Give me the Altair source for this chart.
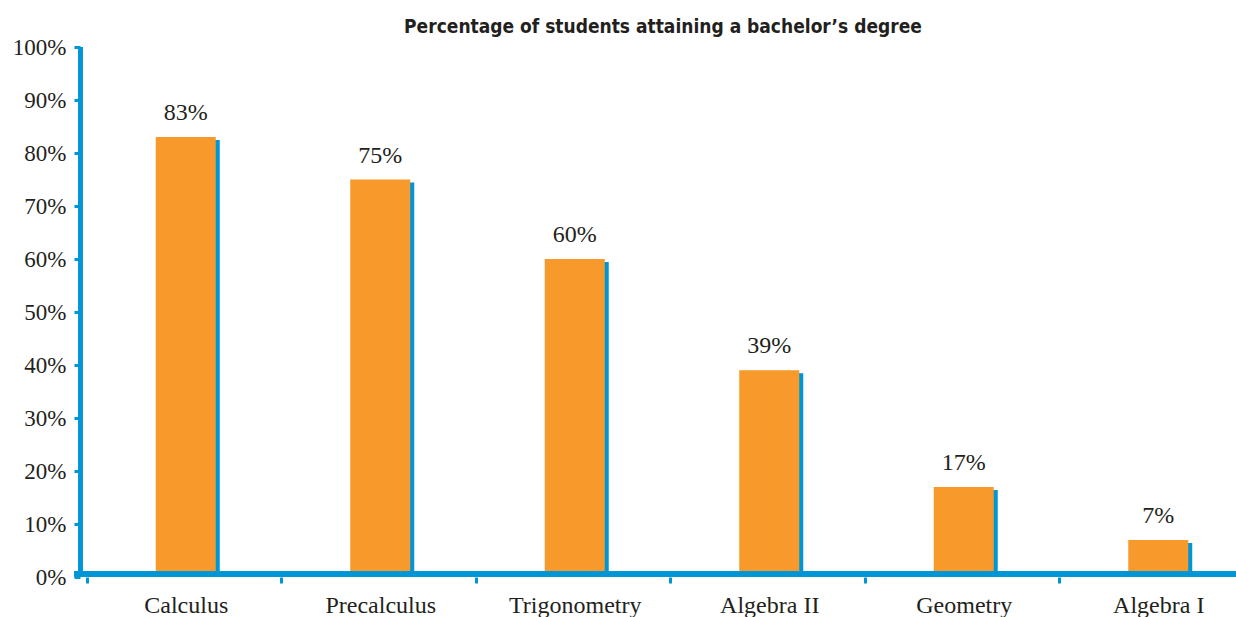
import altair as alt
import pandas as pd

categories = ["Calculus", "Precalculus", "Trigonometry", "Algebra II", "Geometry", "Algebra I"]
values = [83, 75, 60, 39, 17, 7]
labels = ["83%", "75%", "60%", "39%", "17%", "7%"]
y_ticks = [0, 10, 20, 30, 40, 50, 60, 70, 80, 90, 100]
title_text = "Percentage of students attaining a bachelor\u2019s degree"

df = pd.DataFrame({"cat": categories, "val": values, "lab": labels})

ORANGE = "#F7992B"
BLUE = "#0096D6"
TEXT = "#231F20"
W, H = 1156, 530

xs = alt.X("cat:N", sort=categories,
           scale=alt.Scale(domain=categories, range=[6.5, 1173.5], paddingInner=0, paddingOuter=0),
           axis=alt.Axis(title=None, domain=False, tickBand="extent", tickColor=BLUE, tickWidth=3,
                         tickSize=6, labelFont="Liberation Serif", labelFontSize=24, labelColor=TEXT,
                         labelPadding=10, labelOffset=2, labelAngle=0))
ys = alt.Y("val:Q", scale=alt.Scale(domain=[0, 100], nice=False),
           axis=alt.Axis(title=None, domain=False, values=y_ticks, labelExpr="datum.value + '%'",
                         tickColor=BLUE, tickWidth=3, tickSize=6, grid=False,
                         labelFont="Liberation Serif", labelFontSize=23, labelColor=TEXT,
                         labelPadding=8))

base = alt.Chart(df)
shadow = base.mark_bar(width=60, color=BLUE, xOffset=6, yOffset=3, y2Offset=-4).encode(
    x=xs, y=ys, y2=alt.datum(0))
bars = base.mark_bar(width=60, color=ORANGE, xOffset=2, y2Offset=-4).encode(
    x=xs, y=ys, y2=alt.datum(0))
text = base.mark_text(font="Liberation Serif", fontSize=24, color=TEXT, dy=-17, dx=2,
                      baseline="alphabetic").encode(x=xs, y=ys, text="lab:N")
xline = base.mark_rule(color=BLUE, strokeWidth=5).encode(
    x=alt.value(-6), x2=alt.value(W + 10), y=alt.value(H - 3))
yline = base.mark_rule(color=BLUE, strokeWidth=4).encode(
    x=alt.value(0.5), y=alt.value(0), y2=alt.value(H))

chart = alt.layer(shadow, bars, text, xline, yline).properties(
    width=W, height=H,
    autosize=alt.AutoSizeParams(type="none"),
    padding={"left": 80, "top": 47, "right": 0, "bottom": 40},
    title=alt.TitleParams(title_text,
                          font="Liberation Sans Narrow, DejaVu Sans Condensed, Roboto, sans-serif",
                          fontSize=19, fontWeight="bold",
                          color=TEXT, anchor="middle", dx=5, dy=15, offset=14),
).configure_view(stroke=None)

chart.save("out.html", embed_options={"renderer": "svg", "actions": False})
